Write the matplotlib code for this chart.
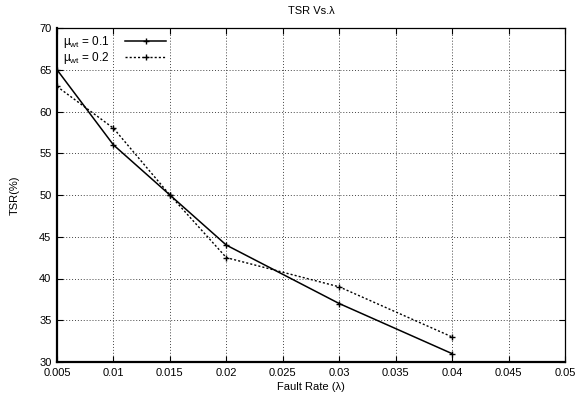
import matplotlib
matplotlib.use("Agg")
import matplotlib.pyplot as plt

plt.rcParams['font.family'] = ['Liberation Sans', 'DejaVu Sans']
plt.rcParams['mathtext.fontset'] = 'custom'
plt.rcParams['mathtext.rm'] = 'Liberation Sans'
plt.rcParams['mathtext.it'] = 'Liberation Sans'

fault_rate = [0.005, 0.01, 0.015, 0.02, 0.03, 0.04]
tsr_01 = [65, 56, 50, 44, 37, 31]
tsr_02 = [63, 58, 50, 42.5, 39, 33]
labels = [r'$\mathrm{\mu_{wt}}$ = 0.1', r'$\mathrm{\mu_{wt}}$ = 0.2']
xticks = [0.005, 0.01, 0.015, 0.02, 0.025, 0.03, 0.035, 0.04, 0.045, 0.05]
xticklabels = ['0.005', '0.01', '0.015', '0.02', '0.025', '0.03', '0.035', '0.04', '0.045', '0.05']
yticks = [30, 35, 40, 45, 50, 55, 60, 65, 70]

fig = plt.figure(figsize=(5.85, 3.96), dpi=100)
ax = fig.add_axes([57/585, 1-362/396, (565-57)/585, (362-28)/396])

ax.plot(fault_rate, tsr_01, color='black', lw=1.1, ls='-', marker='+', ms=5, mew=1.0, label=labels[0])
ax.plot(fault_rate, tsr_02, color='black', lw=1.0, ls=(0, (1.5, 1.5)), marker='+', ms=5, mew=1.0, label=labels[1])

ax.set_xlim(0.005, 0.05)
ax.set_ylim(30, 70)
ax.set_xticks(xticks)
ax.set_xticklabels(xticklabels)
ax.set_yticks(yticks)
ax.tick_params(direction='in', top=True, right=True, length=4, width=0.8, labelsize=8, pad=4, colors='black')
ax.grid(True, color='#444444', ls=(0, (1, 2)), lw=0.7)
for s in ['left', 'bottom']:
    ax.spines[s].set_linewidth(1.6)
for s in ['top', 'right']:
    ax.spines[s].set_linewidth(0.9)

ax.set_title('TSR Vs.λ', fontsize=8, pad=10)
ax.set_xlabel('Fault Rate (λ)', fontsize=8, labelpad=3)
ax.set_ylabel('TSR(%)', fontsize=8, labelpad=14)

leg = ax.legend(loc='upper left', frameon=False, fontsize=8.5, markerfirst=False,
                handlelength=3.5, borderaxespad=0.1, labelspacing=0.0, handletextpad=1.3)

fig.savefig('out.png', dpi=100)
